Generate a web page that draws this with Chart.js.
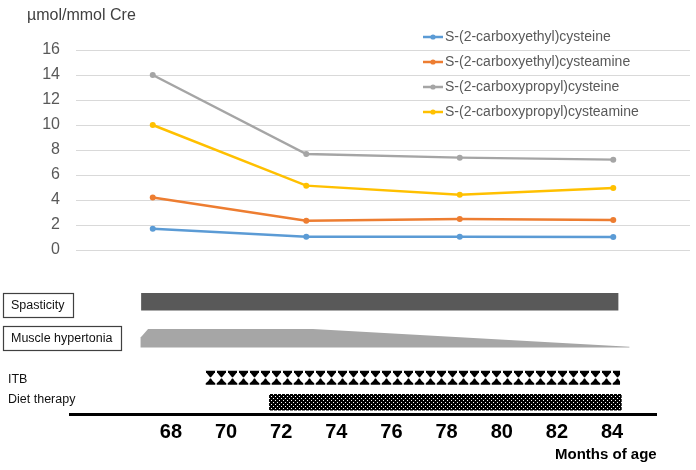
<!DOCTYPE html>
<html><head><meta charset="utf-8">
<script src="https://cdn.jsdelivr.net/npm/chart.js@4"></script>
<style>
html,body{margin:0;padding:0;background:#fff;}
#wrap{position:relative;width:696px;height:470px;}
#wrap canvas{position:absolute;left:0;top:0;}
</style></head><body>
<div id="wrap"><canvas id="levels" width="696" height="470"></canvas><canvas id="timeline" width="696" height="470"></canvas></div>
<script>
// ---------------- data ----------------
const visitMonths = ['67', '73', '78.5', '84'];
const seriesLabels = ['S-(2-carboxyethyl)cysteine', 'S-(2-carboxyethyl)cysteamine', 'S-(2-carboxypropyl)cysteine', 'S-(2-carboxypropyl)cysteamine'];
const carboxyethylCysteine   = [1.7, 1.07, 1.07, 1.04];
const carboxyethylCysteamine = [4.2, 2.35, 2.48, 2.4];
const carboxypropylCysteine  = [14.0, 7.68, 7.39, 7.23];
const carboxypropylCysteamine = [10.0, 5.15, 4.43, 4.96];
const yTickValues = [0, 2, 4, 6, 8, 10, 12, 14, 16];
const unitLabel = 'µmol/mmol Cre';

const rowLabels = ['Spasticity', 'Muscle hypertonia', 'ITB', 'Diet therapy'];
const spasticitySpan = [66.92, 84.23];
const hypertoniaSpan = [66.9, 84.63];
const hypertoniaPlateauEnd = 73.15;
const itbSpan = [69.24, 84.29];
const dietSpan = [71.56, 84.35];
const monthTicks = [68, 70, 72, 74, 76, 78, 80, 82, 84];
const monthAxisTitle = 'Months of age';

// ---------------- styles ----------------
const FONT = '"Liberation Sans", Arial, sans-serif';
const seriesColors = ['#5B9BD5', '#ED7D31', '#A5A5A5', '#FFC000'];

// ---------------- top chart ----------------
const legendPlugin = {
  id: 'sideLegend',
  afterDraw(chart, args, opts) {
    const ctx = chart.ctx;
    ctx.save();
    ctx.font = '14px ' + FONT;
    ctx.textBaseline = 'middle';
    ctx.textAlign = 'left';
    chart.data.datasets.forEach((ds, i) => {
      const y = opts.y + i * opts.gap;
      ctx.strokeStyle = ds.borderColor;
      ctx.lineWidth = 2.5;
      ctx.beginPath(); ctx.moveTo(opts.x, y); ctx.lineTo(opts.x + opts.lineLen, y); ctx.stroke();
      ctx.fillStyle = ds.borderColor;
      ctx.beginPath(); ctx.arc(opts.x + opts.lineLen / 2, y, 2.6, 0, Math.PI * 2); ctx.fill();
      ctx.fillStyle = '#595959';
      ctx.fillText(ds.label, opts.x + opts.lineLen + 2, y);
    });
    ctx.restore();
  }
};

const seriesData = [carboxyethylCysteine, carboxyethylCysteamine, carboxypropylCysteine, carboxypropylCysteamine];

new Chart(document.getElementById('levels'), {
  type: 'line',
  data: {
    labels: visitMonths,
    datasets: seriesData.map((d, i) => ({
      label: seriesLabels[i], data: d,
      borderColor: seriesColors[i], backgroundColor: seriesColors[i],
      pointBackgroundColor: seriesColors[i], pointBorderColor: seriesColors[i],
      borderWidth: 2.5, pointRadius: 3, pointBorderWidth: 0, tension: 0, fill: false
    }))
  },
  options: {
    responsive: false, animation: false, events: [],
    layout: { padding: { left: 27, right: 6, top: 0, bottom: 220 } },
    plugins: {
      legend: { display: false }, tooltip: { enabled: false },
      title: { display: true, text: unitLabel, align: 'start', color: '#404040',
               font: { family: FONT, size: 16, weight: 'normal' }, padding: { top: 6, bottom: 24.8 } },
      sideLegend: { x: 423, y: 37, gap: 25, lineLen: 20 }
    },
    scales: {
      x: { type: 'category', display: false, offset: true },
      y: {
        min: yTickValues[0], max: yTickValues[yTickValues.length - 1],
        afterBuildTicks: s => { s.ticks = yTickValues.map(v => ({ value: v })); },
        afterFit: s => { s.width = 49; },
        grid: { color: '#D9D9D9', lineWidth: 1, drawTicks: false },
        border: { display: false },
        ticks: { padding: 16, color: '#595959', font: { family: FONT, size: 16 } }
      }
    }
  },
  plugins: [legendPlugin]
});

// ---------------- bottom timeline ----------------
const tlCanvas = document.getElementById('timeline');
const tlCtx = tlCanvas.getContext('2d');

function makeItbPattern() {
  const c = document.createElement('canvas'); c.width = 11; c.height = 14;
  const g = c.getContext('2d'); g.fillStyle = '#000';
  g.beginPath();
  g.moveTo(1, 0); g.lineTo(10, 0); g.lineTo(10, 1.2); g.lineTo(6, 6.3); g.lineTo(5, 6.3); g.lineTo(1, 1.2);
  g.closePath(); g.fill();
  g.beginPath();
  g.moveTo(5, 7.5); g.lineTo(6, 7.5);
  g.quadraticCurveTo(7.8, 11, 10.3, 12.3); g.lineTo(10.3, 14); g.lineTo(0.7, 14); g.lineTo(0.7, 12.3);
  g.quadraticCurveTo(3.2, 11, 5, 7.5);
  g.closePath(); g.fill();
  return tlCtx.createPattern(c, 'repeat');
}
function makeDietPattern() {
  const c = document.createElement('canvas'); c.width = 4; c.height = 4;
  const g = c.getContext('2d');
  g.fillStyle = '#000'; g.fillRect(0, 0, 4, 4);
  g.fillStyle = '#fff'; g.fillRect(0, 0, 1, 1); g.fillRect(2, 2, 1, 1);
  return tlCtx.createPattern(c, 'repeat');
}
const itbPattern = makeItbPattern();
const dietPattern = makeDietPattern();

const patternAlignPlugin = {
  id: 'patternAlign',
  beforeDatasetsDraw(chart) {
    [2, 3].forEach(i => {
      const el = chart.getDatasetMeta(i).data[0];
      const pat = chart.data.datasets[i].backgroundColor;
      if (!el || !pat || !pat.setTransform) return;
      const left = Math.min(el.x, el.base);
      const top = el.y - el.height / 2;
      pat.setTransform(new DOMMatrix([1, 0, 0, 1, Math.round(left), Math.round(top)]));
    });
  }
};

const taperPlugin = {
  id: 'taperedBar',
  afterDatasetsDraw(chart) {
    const el = chart.getDatasetMeta(1).data[0];
    if (!el) return;
    const ctx = chart.ctx;
    const xs = chart.scales.x;
    const left = Math.min(el.x, el.base), right = Math.max(el.x, el.base);
    const top = el.y - el.height / 2, bottom = el.y + el.height / 2;
    const plateauX = xs.getPixelForValue(hypertoniaPlateauEnd);
    ctx.save();
    ctx.fillStyle = '#A6A6A6';
    ctx.beginPath();
    ctx.moveTo(left, bottom);
    ctx.lineTo(left, top + 8.5);
    ctx.lineTo(left + 7.5, top);
    ctx.lineTo(plateauX, top);
    ctx.lineTo(right, bottom - 0.8);
    ctx.lineTo(right, bottom);
    ctx.closePath();
    ctx.fill();
    ctx.restore();
  }
};

const rowLabelPlugin = {
  id: 'rowLabels',
  afterDraw(chart, args, opts) {
    const ctx = chart.ctx;
    ctx.save();
    ctx.font = '12.5px ' + FONT;
    ctx.textBaseline = 'middle';
    ctx.textAlign = 'left';
    opts.rows.forEach((r, i) => {
      const el = chart.getDatasetMeta(i).data[0];
      if (!el) return;
      const cy = el.y;
      const text = rowLabels[i];
      if (r.boxed) {
        const w = Math.round(ctx.measureText(text).width + 17);
        const top = Math.round(cy + r.boxDy);
        ctx.strokeStyle = '#404040';
        ctx.lineWidth = 1.2;
        ctx.strokeRect(r.x + 0.5, top + 0.5, w, r.boxH);
        ctx.fillStyle = '#111';
        ctx.fillText(text, r.x + 8, cy + r.textDy);
      } else {
        ctx.fillStyle = '#111';
        ctx.fillText(text, r.x, cy + r.textDy);
      }
    });
    ctx.restore();
  }
};

new Chart(tlCanvas, {
  type: 'bar',
  data: {
    datasets: [
      { label: rowLabels[0], yAxisID: 'yUpper', data: [{ y: rowLabels[0], x: spasticitySpan }], backgroundColor: '#595959', maxBarThickness: 17.3 },
      { label: rowLabels[1], yAxisID: 'yUpper', data: [{ y: rowLabels[1], x: hypertoniaSpan }], backgroundColor: 'rgba(0,0,0,0)', maxBarThickness: 18.4 },
      { label: rowLabels[2], yAxisID: 'yLower', data: [{ y: rowLabels[2], x: itbSpan }], backgroundColor: itbPattern, maxBarThickness: 14 },
      { label: rowLabels[3], yAxisID: 'yLower', data: [{ y: rowLabels[3], x: dietSpan }], backgroundColor: dietPattern, maxBarThickness: 16.4 }
    ]
  },
  options: {
    indexAxis: 'y', responsive: false, animation: false, events: [],
    datasets: { bar: { grouped: false, borderWidth: 0 } },
    layout: { padding: { left: 70, right: 39.3, top: 283.5, bottom: 0 } },
    plugins: {
      legend: { display: false }, tooltip: { enabled: false }, title: { display: false },
      rowLabels: { rows: [
        { boxed: true, x: 3, boxDy: -9, boxH: 24, textDy: 4 },
        { boxed: true, x: 3, boxDy: -12.3, boxH: 24, textDy: 0 },
        { boxed: false, x: 8, textDy: 2 },
        { boxed: false, x: 8, textDy: -2.5 }
      ] }
    },
    scales: {
      x: {
        type: 'linear', position: 'bottom', min: 64.34, max: 85.62,
        afterBuildTicks: s => { s.ticks = monthTicks.map(v => ({ value: v })); },
        afterFit: s => { s.height = 55.5; },
        grid: { display: true, color: 'rgba(0,0,0,0)', drawTicks: false, drawOnChartArea: false },
        border: { display: true, color: '#000', width: 3 },
        ticks: { autoSkip: false, maxRotation: 0, padding: 6, color: '#000', font: { family: FONT, size: 20, weight: 'bold' } },
        title: { display: true, text: monthAxisTitle, align: 'end', color: '#000',
                 font: { family: FONT, size: 15, weight: 'bold' }, padding: { top: 0, bottom: 6 } }
      },
      yUpper: { type: 'category', labels: rowLabels.slice(0, 2), display: false, offset: true, position: 'left', stack: 'rows', stackWeight: 73, weight: 2 },
      yGap:   { type: 'category', labels: [''], display: false, offset: true, position: 'left', stack: 'rows', stackWeight: 9, weight: 1 },
      yLower: { type: 'category', labels: rowLabels.slice(2), display: false, offset: true, position: 'left', stack: 'rows', stackWeight: 49, weight: 0 }
    }
  },
  plugins: [patternAlignPlugin, taperPlugin, rowLabelPlugin]
});
</script>
</body></html>
